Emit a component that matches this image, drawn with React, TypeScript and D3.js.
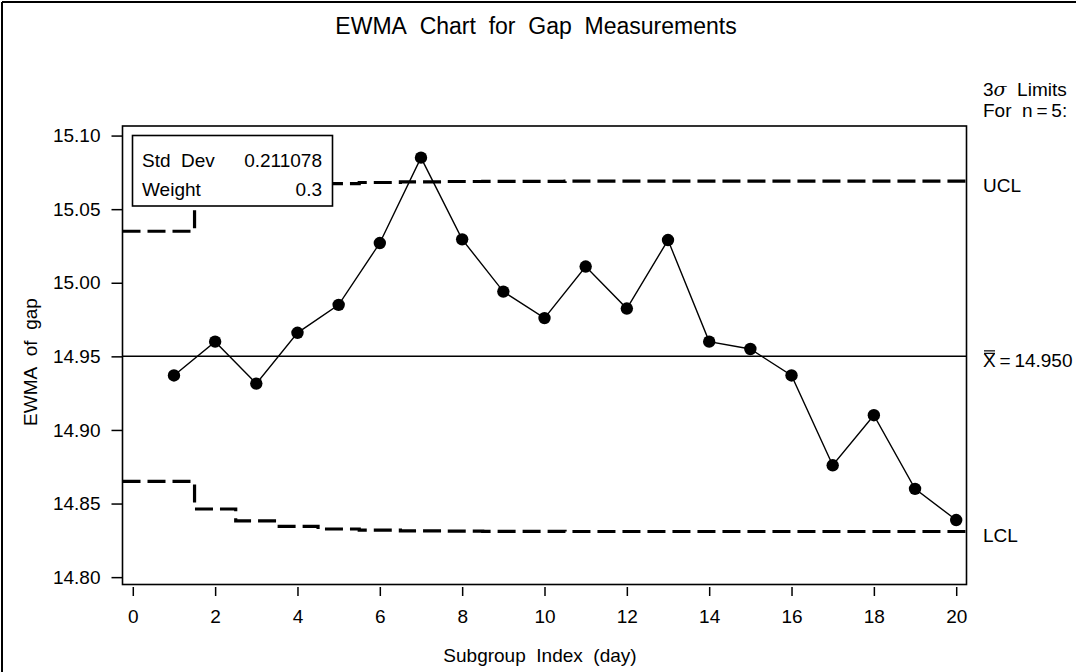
import * as d3 from "d3";
import React, { useEffect, useRef } from "react";

// subgroup index (day) and EWMA of gap
const days = [1, 2, 3, 4, 5, 6, 7, 8, 9, 10, 11, 12, 13, 14, 15, 16, 17, 18, 19, 20];
const ewma = [
  14.937, 14.96, 14.9315, 14.966, 14.985, 15.027, 15.085, 15.0295, 14.994, 14.976,
  15.011, 14.9825, 15.029, 14.96, 14.955, 14.937, 14.876, 14.91, 14.86, 14.8388,
];
const ucl = [
  15.035, 15.0537, 15.0618, 15.0655, 15.0673, 15.0681, 15.0686, 15.0688, 15.0689, 15.0689,
  15.069, 15.069, 15.069, 15.069, 15.069, 15.069, 15.069, 15.069, 15.069, 15.069,
];
const lcl = [
  14.865, 14.8463, 14.8382, 14.8345, 14.8327, 14.8319, 14.8314, 14.8312, 14.8311, 14.8311,
  14.831, 14.831, 14.831, 14.831, 14.831, 14.831, 14.831, 14.831, 14.831, 14.831,
];
const centerLine = 14.95;
const xTicks = [0, 2, 4, 6, 8, 10, 12, 14, 16, 18, 20];
const yTicks = [14.8, 14.85, 14.9, 14.95, 15.0, 15.05, 15.1];
const legendRows = [["Std\u00a0 Dev", "0.211078"], ["Weight", "0.3"]];

const W = 1076;
const H = 672;
const FONT = "'Liberation Sans', Arial, sans-serif";
const FS = "19px";
const SP = "\u00a0 "; // SAS style double space

const App = () => {
  const ref = useRef<SVGSVGElement>(null);

  useEffect(() => {
    const svg = d3.select(ref.current);
    svg.selectAll("*").remove();

    const left = 122.5, right = 966.5, top = 126, bottom = 584.5;
    const x = d3.scaleLinear().domain([-0.25, 20.25]).range([left, right]);
    const y = d3.scaleLinear().domain([14.795, 15.1065]).range([bottom, top]);

    // outer frame, only top and left show
    svg.append("line").attr("x1", 2).attr("x2", W).attr("y1", 2).attr("y2", 2)
      .attr("stroke", "#000").attr("stroke-width", 2);
    svg.append("line").attr("x1", 2).attr("x2", 2).attr("y1", 2).attr("y2", H)
      .attr("stroke", "#000").attr("stroke-width", 2);

    svg.append("text")
      .attr("x", 536).attr("y", 34)
      .attr("text-anchor", "middle")
      .style("font-size", "23px")
      .text(["EWMA", "Chart", "for", "Gap", "Measurements"].join(SP));

    // axes
    const xAxis = svg.append("g")
      .attr("transform", `translate(0,${bottom})`)
      .call(d3.axisBottom(x).tickValues(xTicks).tickSize(9).tickPadding(16).tickFormat(d3.format("d")));
    xAxis.select(".domain").remove();
    xAxis.selectAll(".tick line").attr("transform", "translate(0,2.5)").attr("stroke-width", 1.5);
    xAxis.selectAll("text").style("font-size", FS).style("font-family", FONT);

    const yAxis = svg.append("g")
      .attr("transform", `translate(${left},0)`)
      .call(d3.axisLeft(y).tickValues(yTicks).tickSize(11).tickPadding(11).tickFormat(d3.format(".2f")));
    yAxis.select(".domain").remove();
    yAxis.selectAll(".tick line").attr("stroke-width", 1.5);
    yAxis.selectAll("text").style("font-size", FS).style("font-family", FONT);

    svg.append("text")
      .attr("x", 540).attr("y", 662)
      .attr("text-anchor", "middle")
      .style("font-size", FS)
      .text(["Subgroup", "Index", "(day)"].join(SP));
    svg.append("text")
      .attr("transform", `translate(37,362) rotate(-90)`)
      .attr("text-anchor", "middle")
      .style("font-size", FS)
      .text(["EWMA", "of", "gap"].join(SP));

    // center line
    svg.append("line")
      .attr("x1", left).attr("x2", right)
      .attr("y1", y(centerLine)).attr("y2", y(centerLine))
      .attr("stroke", "#000").attr("stroke-width", 1.5);

    // step limits, each value spans its subgroup +/- 0.5
    const stepLine = (vals: number[]) => {
      const pts: [number, number][] = [];
      vals.forEach((v, i) => {
        const a = i === 0 ? -0.25 : days[i] - 0.5;
        const b = i === vals.length - 1 ? 20.25 : days[i] + 0.5;
        pts.push([x(a), y(v)]);
        pts.push([x(b), y(v)]);
      });
      return d3.line()(pts);
    };
    [ucl, lcl].forEach((vals) => {
      svg.append("path")
        .attr("d", stepLine(vals))
        .attr("fill", "none")
        .attr("stroke", "#000")
        .attr("stroke-width", 3.2)
        .attr("stroke-dasharray", "18 7");
    });

    // ewma series
    const line = d3.line<number>().x((_, i) => x(days[i])).y((d) => y(d));
    svg.append("path")
      .attr("d", line(ewma))
      .attr("fill", "none")
      .attr("stroke", "#000")
      .attr("stroke-width", 1.4);
    svg.selectAll("circle.pt")
      .data(ewma)
      .join("circle")
      .attr("class", "pt")
      .attr("cx", (_, i) => x(days[i]))
      .attr("cy", (d) => y(d))
      .attr("r", 6.2)
      .attr("fill", "#000");

    // plot frame
    svg.append("rect")
      .attr("x", left).attr("y", top)
      .attr("width", right - left).attr("height", bottom - top)
      .attr("fill", "none").attr("stroke", "#000").attr("stroke-width", 1.6);

    // legend box
    const box = svg.append("g");
    box.append("rect")
      .attr("x", 132.5).attr("y", 135.5).attr("width", 200).attr("height", 70.5)
      .attr("fill", "#fff").attr("stroke", "#000").attr("stroke-width", 1.6);
    legendRows.forEach(([k, v], i) => {
      box.append("text").attr("x", 142).attr("y", 167 + i * 29)
        .style("font-size", FS).text(k);
      box.append("text").attr("x", 322).attr("y", 167 + i * 29)
        .attr("text-anchor", "end").style("font-size", FS).text(v);
    });

    // right side labels
    const lab = svg.append("g").style("font-size", FS);
    const t1 = lab.append("text").attr("x", 983).attr("y", 96);
    t1.append("tspan").text("3");
    t1.append("tspan").style("font-family", "'DejaVu Serif', serif").style("font-style", "italic").text("σ");
    t1.append("tspan").text(SP + "Limits");
    lab.append("text").attr("x", 983).attr("y", 117).text("For" + SP + "n\u2009=\u20095:");
    lab.append("text").attr("x", 983).attr("y", y(ucl[ucl.length - 1]) + 10.5).text("UCL");
    lab.append("text").attr("x", 983).attr("y", y(lcl[lcl.length - 1]) + 10.5).text("LCL");
    const cy = y(centerLine);
    lab.append("text").attr("x", 983).attr("y", cy + 10.5).text("X\u2009=\u200914.950");
    [-5.5, -3].forEach((dy) => {
      lab.append("line")
        .attr("x1", 984).attr("x2", 995)
        .attr("y1", cy + dy).attr("y2", cy + dy)
        .attr("stroke", "#000").attr("stroke-width", 1.2);
    });
  }, []);

  return (
    <svg
      ref={ref}
      width={W}
      height={H}
      style={{ position: "absolute", top: 0, left: 0, background: "#fff", fontFamily: FONT }}
    ></svg>
  );
};

export default App;
